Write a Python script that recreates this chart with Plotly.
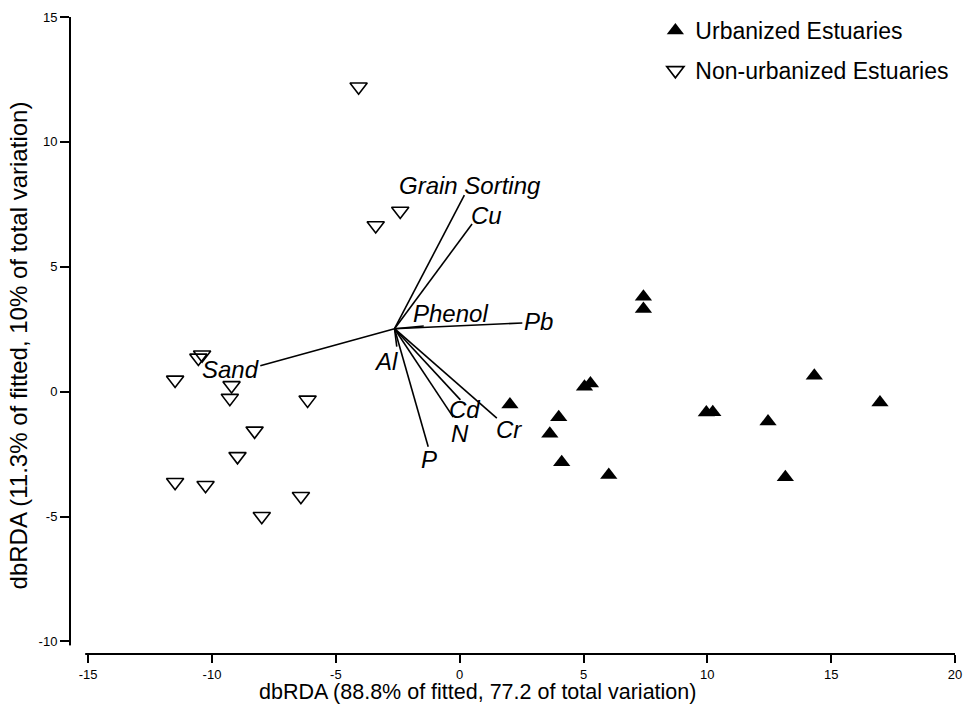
import plotly.graph_objects as go

# ---------------- data ----------------
urb_x = [7.42, 7.42, 5.04, 5.28, 2.03, 4.00, 3.64, 4.12, 6.02, 9.96, 10.22, 12.45, 14.32, 16.97, 13.15]
urb_y = [3.80, 3.31, 0.20, 0.33, -0.51, -1.03, -1.69, -2.83, -3.34, -0.84, -0.83, -1.20, 0.64, -0.43, -3.43]

non_x = [-4.08, -2.40, -3.39, -10.55, -10.40, -11.49, -9.21, -9.28, -6.14, -8.28, -8.97, -11.49, -10.26, -6.41, -7.99]
non_y = [12.21, 7.23, 6.65, 1.35, 1.48, 0.47, 0.25, -0.26, -0.33, -1.57, -2.59, -3.63, -3.75, -4.19, -4.99]

vec_origin = (-2.63, 2.52)
vec_names = ["Grain Sorting", "Cu", "Phenol", "Pb", "Al", "Sand", "Cd", "N", "Cr", "P"]
vec_x = [0.19, 0.50, -1.45, 2.53, -2.54, -8.05, 0.03, -0.26, 1.50, -1.27]
vec_y = [7.87, 6.71, 2.63, 2.75, 1.80, 1.04, -0.33, -1.02, -1.06, -2.21]
label_x = [0.42, 1.10, -0.37, 3.17, -2.98, -9.26, 0.18, 0.00, 2.01, -1.23]
label_y = [8.27, 7.07, 3.14, 2.80, 1.20, 0.87, -0.70, -1.66, -1.51, -2.73]

x_ticks = [-15, -10, -5, 0, 5, 10, 15, 20]
x_ticktext = ["-15", "-10", "-5", "0", "5", "10", "15", "20"]
y_ticks = [-10, -5, 0, 5, 10, 15]
y_ticktext = ["-10", "-5", "0", "5", "10", "15"]

x_title = "dbRDA (88.8% of fitted, 77.2 of total variation)"
y_title = "dbRDA (11.3% of fitted, 10% of total variation)"

FONT = "Arial, Liberation Sans, sans-serif"

# ---------------- layout geometry (pixels) ----------------
W, H = 971, 712
ML, MR, MT, MB = 71, 9, 17, 59
PW, PH = W - ML - MR, H - MT - MB
X_GAP_PX = 17.3    # gap between y-axis line and first x tick
Y_GAP_PX = 11.6    # gap between x-axis line and lowest y tick

x_lo, x_hi = x_ticks[0], x_ticks[-1]
y_lo, y_hi = y_ticks[0], y_ticks[-1]
x_range = [x_lo - X_GAP_PX * (x_hi - x_lo) / (PW - X_GAP_PX), x_hi]
y_range = [y_lo - Y_GAP_PX * (y_hi - y_lo) / (PH - Y_GAP_PX), y_hi]

# ---------------- figure ----------------
fig = go.Figure()

seg_x, seg_y = [], []
for ex, ey in zip(vec_x, vec_y):
    seg_x += [vec_origin[0], ex, None]
    seg_y += [vec_origin[1], ey, None]
fig.add_trace(go.Scatter(x=seg_x, y=seg_y, mode="lines",
                         line=dict(color="black", width=1.6),
                         showlegend=False, hoverinfo="skip"))

fig.add_trace(go.Scatter(x=urb_x, y=urb_y, mode="markers", name="Urbanized Estuaries",
                         legendgroup="a",
                         marker=dict(symbol="triangle-up", size=15, color="black",
                                     line=dict(width=0))))
fig.add_trace(go.Scatter(x=non_x, y=non_y, mode="markers", name="Non-urbanized Estuaries",
                         legendgroup="b",
                         marker=dict(symbol="triangle-down-open", size=15, color="black",
                                     line=dict(width=1.6, color="black"))))

for name, lx, ly in zip(vec_names, label_x, label_y):
    fig.add_annotation(x=lx, y=ly, xref="x", yref="y", text=name, showarrow=False,
                       xanchor="center", yanchor="middle",
                       font=dict(family=FONT, size=24, color="black", style="italic"))

fig.add_annotation(x=(481 - ML) / PW, y=(H - MB - 692) / PH, xref="paper", yref="paper",
                   text=x_title, showarrow=False, xanchor="center", yanchor="middle",
                   font=dict(family=FONT, size=21.5, color="black"))
fig.add_annotation(x=(18 - ML) / PW, y=(H - MB - 345) / PH, xref="paper", yref="paper",
                   text=y_title, showarrow=False, xanchor="center", yanchor="middle",
                   textangle=-90, font=dict(family=FONT, size=24, color="black"))

# white mask so the two axis lines stay separated at the corner (as in the reference)
fig.add_shape(type="rect", xref="paper", yref="paper", layer="above",
              x0=-3 / PW, x1=(X_GAP_PX - 3) / PW,
              y0=-3 / PH, y1=(Y_GAP_PX - 4) / PH,
              fillcolor="white", line=dict(width=0))

fig.update_layout(
    width=W, height=H,
    margin=dict(l=ML, r=MR, t=MT, b=MB),
    paper_bgcolor="white", plot_bgcolor="white",
    font=dict(family=FONT, color="black"),
    xaxis=dict(range=x_range, anchor="y", showgrid=False, zeroline=False,
               tickmode="array", tickvals=x_ticks, ticktext=x_ticktext,
               ticks="outside", ticklen=8, tickwidth=2, tickcolor="black",
               showline=True, linecolor="black", linewidth=2,
               tickfont=dict(size=13, family=FONT)),
    yaxis=dict(range=y_range, anchor="x", showgrid=False, zeroline=False,
               tickmode="array", tickvals=y_ticks, ticktext=y_ticktext,
               ticks="outside", ticklen=9, tickwidth=2, tickcolor="black",
               showline=True, linecolor="black", linewidth=2,
               tickfont=dict(size=13, family=FONT)),
    legend=dict(x=(660 - ML) / PW, y=1 + (MT - 9) / PH, xanchor="left", yanchor="top",
                font=dict(size=23, family=FONT), bgcolor="rgba(0,0,0,0)",
                traceorder="grouped", tracegroupgap=7),
)

fig.write_html("out.html")
